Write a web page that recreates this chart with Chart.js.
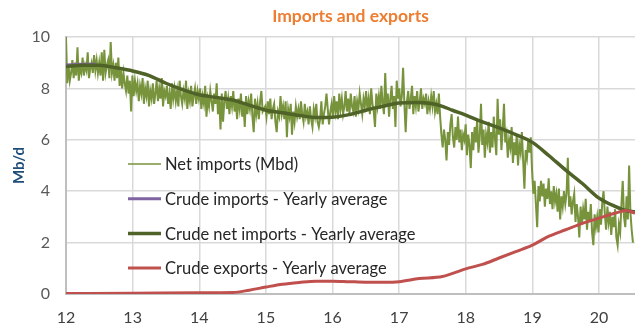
<!DOCTYPE html>
<html lang="en">

<head>
    <meta charset="UTF-8">
    <title>Imports and exports</title>
    <style>
        html, body { margin: 0; padding: 0; background: #fff; }
        #wrap { width: 635px; height: 323px; }
    </style>
</head>

<body>
    <div id="wrap">
        <canvas id="myChart"></canvas>
    </div>

    <script src="https://cdn.jsdelivr.net/npm/chart.js@4.4.2/dist/chart.umd.min.js"></script>

    <script>
        // weekly net imports (Mbd), first week of 2012 onwards
        var netImportsWeekly = [
            10.0, 8.2, 8.9, 8.3, 8.6, 9.1, 8.4, 9.0, 8.5, 9.6, 8.3, 8.8, 8.6,
            9.2, 8.5, 8.9, 8.7, 9.4, 8.4, 8.8, 9.0, 8.6, 9.3, 8.7, 9.1, 8.6,
            9.0, 8.5, 9.4, 8.3, 9.5, 8.6, 8.9, 9.1, 8.4, 9.8, 8.6, 8.9, 8.3,
            9.0, 8.4, 9.2, 8.1, 8.7, 8.0, 8.6, 8.2, 7.9, 8.5, 7.8, 8.3, 7.1,
            // 2013
            8.5, 7.7, 8.3, 7.9, 8.2, 7.5, 8.1, 7.8, 8.4, 7.4, 8.0, 7.7, 8.3,
            7.3, 7.9, 7.6, 8.2, 7.4, 7.8, 8.3, 7.5, 8.0, 7.6, 8.4, 7.3, 7.9,
            7.7, 8.1, 7.4, 7.8, 7.2, 8.2, 7.6, 8.0, 7.5, 7.9, 7.3, 8.3, 7.7,
            7.4, 7.9, 7.6, 8.3, 7.2, 7.8, 7.5, 8.1, 7.3, 7.7, 8.0, 7.4, 7.9,
            // 2014
            7.6, 8.0, 7.2, 7.7, 7.4, 8.1, 6.9, 7.6, 7.3, 7.9, 7.5, 7.1, 7.8,
            7.4, 8.2, 7.0, 7.6, 6.4, 7.8, 6.7, 7.5, 7.9, 7.2, 7.6, 7.0, 7.7,
            7.3, 7.9, 7.1, 7.5, 6.8, 7.6, 7.2, 7.8, 6.9, 7.4, 6.5, 7.7, 7.0,
            7.5, 7.2, 7.8, 6.9, 6.3, 7.6, 7.0, 7.4, 6.8, 7.5, 7.9, 7.1, 7.2,
            // 2015
            7.3, 6.9, 7.5, 7.0, 7.6, 6.8, 7.2, 7.4, 6.7, 6.3, 7.1, 6.9, 7.7,
            7.0, 7.3, 6.8, 7.5, 6.1, 7.2, 6.9, 7.4, 6.2, 7.1, 6.7, 7.3, 6.9,
            7.2, 6.8, 7.5, 7.0, 6.7, 7.4, 6.9, 7.1, 6.6, 7.3, 6.8, 6.5, 7.2,
            6.9, 7.4, 6.7, 6.5, 6.8, 7.5, 6.6, 7.0, 7.3, 7.8, 7.2, 6.6, 7.1,
            // 2016
            7.4, 6.9, 7.7, 7.1, 7.5, 6.8, 7.8, 7.2, 7.6, 7.0, 7.3, 7.9, 7.1,
            7.6, 7.0, 7.8, 7.3, 7.1, 7.7, 6.9, 7.5, 7.2, 7.8, 7.4, 7.0, 7.6,
            7.3, 7.9, 7.2, 7.6, 7.0, 8.0, 7.4, 7.1, 6.5, 7.8, 7.3, 7.7, 7.2,
            8.1, 7.4, 7.0, 8.6, 7.3, 7.8, 6.9, 7.6, 8.1, 7.2, 7.7, 6.5, 8.3,
            // 2017
            7.6, 8.0, 7.3, 7.7, 8.8, 7.4, 6.3, 7.5, 7.9, 7.2, 7.6, 8.1, 7.0,
            7.7, 7.3, 7.9, 7.1, 7.5, 8.0, 7.2, 7.6, 7.4, 7.8, 7.0, 7.5, 7.2,
            7.7, 7.3, 7.9, 7.1, 7.4, 7.0, 7.8, 6.9, 6.2, 5.7, 6.4, 6.0, 5.2,
            6.3, 5.8, 6.6, 7.0, 6.1, 5.7, 6.5, 6.0, 6.9, 5.9, 6.4, 5.6, 6.2,
            // 2018
            6.0, 6.6, 5.4, 6.2, 5.8, 4.9, 6.3, 5.6, 6.5, 5.9, 6.8, 5.5, 6.1,
            7.4, 5.8, 6.4, 5.3, 6.2, 5.9, 6.7, 5.5, 6.3, 5.7, 6.9, 6.0, 5.4,
            7.6, 6.2, 6.8, 5.6, 6.4, 7.4, 5.9, 6.2, 5.3, 6.0, 5.7, 6.5, 5.1,
            5.9, 5.4, 6.2, 5.0, 5.8, 5.5, 6.3, 5.2, 4.1, 5.6, 5.3, 6.0, 5.5,
            // 2019
            6.1, 4.8, 3.9, 4.4, 3.5, 2.6, 4.2, 3.6, 4.4, 3.8, 4.3, 3.4, 4.1,
            3.7, 4.5, 3.5, 4.0, 3.3, 4.2, 3.6, 3.9, 3.2, 4.1, 2.9, 3.8, 3.4,
            4.0, 3.5, 3.9, 5.3, 3.4, 3.8, 3.1, 3.6, 3.9, 2.8, 3.5, 3.0, 2.2,
            3.4, 2.7, 3.3, 2.9, 3.7, 2.5, 3.2, 2.8, 3.5, 2.4, 1.9, 3.1, 2.6,
            // 2020
            3.0, 2.4, 3.3, 2.7, 3.6, 4.0, 3.1, 2.5, 3.4, 2.8, 3.2, 2.3, 3.0,
            2.6, 3.3, 2.2, 1.9, 2.7, 2.4, 3.5, 4.4, 3.0, 2.6, 3.8, 2.9, 5.0,
            3.2, 2.5, 2.0
        ];

        // yearly averages, sampled along the year axis
        var crudeImportsYears = [12.0, 12.25, 12.45];
        var crudeImportsAvg = [8.92, 8.95, 8.95];

        var crudeNetYears = [12.0, 12.25, 12.5, 12.75, 13.0, 13.25, 13.5, 13.75, 14.0, 14.25, 14.5, 14.75,
            15.0, 15.25, 15.5, 15.75, 16.0, 16.25, 16.5, 16.75, 17.0, 17.25, 17.5, 17.65, 17.8,
            18.0, 18.25, 18.5, 18.75, 19.0, 19.25, 19.5, 19.75, 20.0, 20.25, 20.4, 20.54];
        var crudeNetAvg = [8.85, 8.9, 8.9, 8.8, 8.68, 8.5, 8.2, 7.95, 7.75, 7.65, 7.55, 7.35,
            7.15, 7.05, 6.95, 6.87, 6.88, 6.98, 7.15, 7.3, 7.43, 7.45, 7.4, 7.3, 7.15,
            6.96, 6.7, 6.46, 6.2, 5.9, 5.38, 4.82, 4.3, 3.73, 3.4, 3.25, 3.2];

        var crudeExportYears = [12.0, 13.0, 14.0, 14.5, 14.75, 15.0, 15.25, 15.5, 15.75, 16.0, 16.25, 16.5,
            16.75, 17.0, 17.3, 17.65, 18.0, 18.25, 18.5, 18.75, 19.0, 19.25, 19.5, 19.75,
            20.0, 20.25, 20.4, 20.54];
        var crudeExportAvg = [0.02, 0.03, 0.05, 0.06, 0.15, 0.27, 0.38, 0.45, 0.5, 0.5, 0.48, 0.46,
            0.46, 0.48, 0.6, 0.68, 0.98, 1.15, 1.4, 1.65, 1.9, 2.25, 2.5, 2.75,
            2.95, 3.15, 3.25, 3.15];

        var firstYear = 12;
        var weeksPerYear = 365.25 / 7;

        var toPoints = function (xs, ys) {
            var pts = [];
            for (var i = 0; i < xs.length; i++) {
                pts.push({ x: xs[i], y: ys[i] });
            }
            return pts;
        }

        var weeklyPoints = netImportsWeekly.map(function (v, i) {
            return { x: firstYear + i / weeksPerYear, y: v };
        });

        var fontFamily = 'Lato, "Open Sans", sans-serif';

        // legend drawn inside the plot area, no box
        var insideLegend = {
            id: 'insideLegend',
            afterDatasetsDraw: function (chart) {
                var c = chart.ctx;
                var x0 = 128, x1 = 161, top = 164, gap = 34.7;
                c.save();
                c.font = '16.5px ' + fontFamily;
                c.textBaseline = 'middle';
                c.fillStyle = '#262626';
                chart.data.datasets.forEach(function (ds, i) {
                    var y = top + i * gap;
                    c.strokeStyle = ds.borderColor;
                    c.lineWidth = ds.legendWidth;
                    c.beginPath();
                    c.moveTo(x0, y);
                    c.lineTo(x1, y);
                    c.stroke();
                    c.fillText(ds.label, x1 + 4, y + 1);
                });
                c.restore();
            }
        };

        const ctx = document.getElementById('myChart');
        new Chart(ctx, {
            type: 'line',
            data: {
                datasets: [
                    {
                        label: 'Net imports (Mbd)',
                        data: weeklyPoints,
                        borderColor: '#77933C',
                        borderWidth: 2,
                        legendWidth: 1.5,
                        order: 4,
                    },
                    {
                        label: 'Crude imports - Yearly average',
                        data: toPoints(crudeImportsYears, crudeImportsAvg),
                        borderColor: '#8064A2',
                        borderWidth: 2.5,
                        legendWidth: 3,
                        order: 3,
                    },
                    {
                        label: 'Crude net imports - Yearly average',
                        data: toPoints(crudeNetYears, crudeNetAvg),
                        borderColor: '#4F6228',
                        borderWidth: 3.5,
                        legendWidth: 3.5,
                        cubicInterpolationMode: 'monotone',
                        order: 2,
                    },
                    {
                        label: 'Crude exports - Yearly average',
                        data: toPoints(crudeExportYears, crudeExportAvg),
                        borderColor: '#C0504D',
                        borderWidth: 3,
                        legendWidth: 3,
                        cubicInterpolationMode: 'monotone',
                        order: 1,
                    },
                ]
            },
            options: {
                responsive: true,
                maintainAspectRatio: false,
                animation: false,
                elements: {
                    point: { radius: 0 },
                    line: { tension: 0 },
                },
                layout: {
                    padding: { top: 0, right: 0, bottom: 0, left: 10 },
                },
                scales: {
                    x: {
                        type: 'linear',
                        min: 12,
                        max: 20.54,
                        afterFit: function (scale) { scale.height = 29; },
                        grid: {
                            color: '#D9D9D9',
                            lineWidth: 1.5,
                            drawTicks: false,
                        },
                        border: { color: '#BFBFBF', width: 2 },
                        ticks: {
                            stepSize: 1,
                            includeBounds: false,
                            padding: 14,
                            color: '#404040',
                            font: { family: fontFamily, size: 16 },
                        },
                    },
                    y: {
                        min: 0,
                        max: 10,
                        afterFit: function (scale) { scale.width = 56; },
                        grid: {
                            color: '#D9D9D9',
                            lineWidth: 1.5,
                            drawTicks: false,
                        },
                        border: { color: '#BFBFBF', width: 2 },
                        ticks: {
                            stepSize: 2,
                            padding: 16,
                            color: '#595959',
                            font: { family: fontFamily, size: 16 },
                        },
                        title: {
                            display: true,
                            text: 'Mb/d',
                            color: '#1F4E79',
                            padding: { top: 0, bottom: 6 },
                            font: { family: fontFamily, size: 15, weight: 'bold' },
                        },
                    },
                },
                plugins: {
                    title: {
                        display: true,
                        fullSize: false,
                        text: 'Imports and exports',
                        color: '#ED7D31',
                        padding: { top: 6, bottom: 10 },
                        font: { family: fontFamily, size: 17.5, weight: 'bold' },
                    },
                    legend: { display: false },
                    tooltip: { enabled: false },
                },
            },
            plugins: [insideLegend],
        });
    </script>
</body>

</html>
